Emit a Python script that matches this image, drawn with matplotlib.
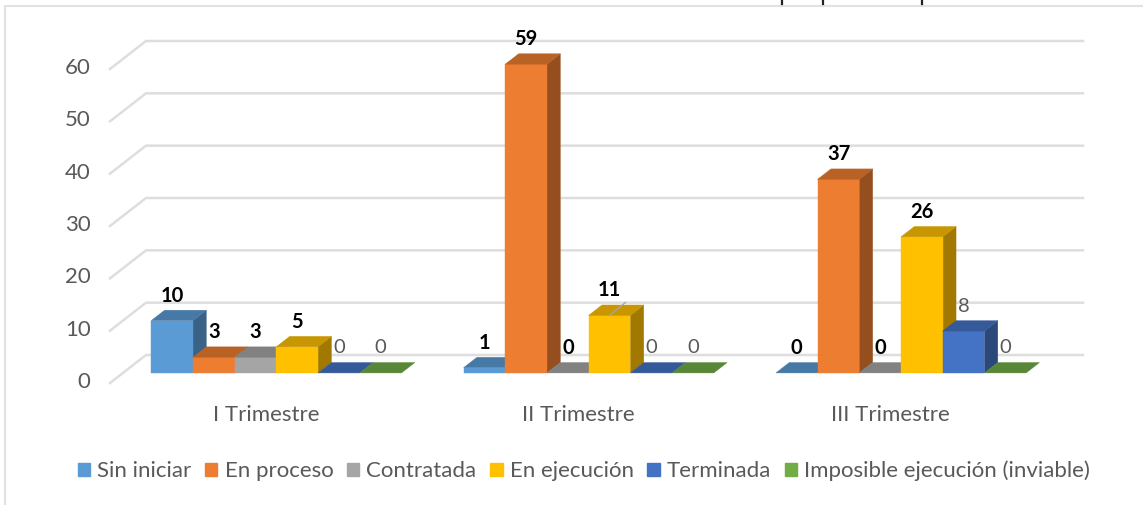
import matplotlib
matplotlib.use("Agg")
import matplotlib.pyplot as plt
from matplotlib.patches import Polygon, Patch, Rectangle
from matplotlib.lines import Line2D
from matplotlib.colors import to_rgb
from matplotlib.transforms import ScaledTranslation

categories = ["I Trimestre", "II Trimestre", "III Trimestre"]
series_names = ["Sin iniciar", "En proceso", "Contratada", "En ejecución", "Terminada", "Imposible ejecución (inviable)"]
sin_iniciar = [10, 1, 0]
en_proceso = [3, 59, 37]
contratada = [3, 0, 0]
en_ejecucion = [5, 11, 26]
terminada = [0, 0, 8]
imposible = [0, 0, 0]
series_values = [sin_iniciar, en_proceso, contratada, en_ejecucion, terminada, imposible]
colors = ["#5B9BD5", "#ED7D31", "#A5A5A5", "#FFC000", "#4472C4", "#70AD47"]
y_ticks = [0, 10, 20, 30, 40, 50, 60]
bold_labels = [[True, True, True], [True, True, True], [True, True, True],
               [True, True, True], [False, False, False], [False, False, False]]

W, H = 1143, 505
plt.rcParams["font.family"] = ["Lato", "DejaVu Sans"]
TXT = "#595959"
GRID = "#DEDEDE"
fig = plt.figure(figsize=(W / 100, H / 100), dpi=100)
fig.patches.append(Rectangle((5 / W, -0.02), 1.1, 1 - 6 / H + 0.02, transform=fig.transFigure,
                             fc="white", ec="#E2E2E2", lw=1.5, zorder=-5))

# front plane of the 3D box: x 110..1047 px, value 0..60 at 383..69 px
left, right, y0, y60 = 110, 1047, 383, 69
ax = fig.add_axes([left / W, 1 - y0 / H, (right - left) / W, (y0 - y60) / H])
ax.patch.set_alpha(0)
ax.set_xlim(0, 3)
ax.set_ylim(0, 60)
for s in ax.spines.values():
    s.set_visible(False)

px = 3 / (right - left)
py = 60 / (y0 - y60)
DX, DY = 36 * px, 28 * py          # full box depth


def shift(x, y, d):
    return x + DX * d, y + DY * d


for t in y_ticks:
    x1, y1 = shift(0, t, 1)
    x2, y2 = shift(3, t, 1)
    ax.plot([0, x1, x2], [t, y1, y2], color=GRID, lw=1.8, clip_on=False, zorder=1, solid_joinstyle="miter")

n = len(series_names)
bw = (41.7 * px)
start = 28.3 * px
d0, d1 = 0.36, 0.73


def face(pts, c, z, k=1.0):
    rgb = tuple(v * k for v in to_rgb(c))
    ax.add_patch(Polygon(pts, closed=True, fc=rgb, ec=rgb, lw=0.3, clip_on=False, zorder=z))


z = 3
for ci in range(len(categories)):
    for si in range(n):
        v = series_values[si][ci]
        xa = ci + start + si * bw
        xb = xa + bw
        c = colors[si]
        if v > 0:
            face([shift(xb, 0, d0), shift(xb, 0, d1), shift(xb, v, d1), shift(xb, v, d0)], c, z, 0.63)
            face([shift(xa, 0, d0), shift(xb, 0, d0), shift(xb, v, d0), shift(xa, v, d0)], c, z + 0.1)
        face([shift(xa, v, d0), shift(xb, v, d0), shift(xb, v, d1), shift(xa, v, d1)], c, z + 0.2, 0.78)
        z += 1
        lx, ly = shift(xa + bw / 2, v, d0)
        bold = bold_labels[si][ci]
        ax.annotate(str(v), (lx, ly), xytext=(0, 25), textcoords="offset pixels", ha="center", va="center",
                    fontsize=14.5 if bold else 14.5, fontweight="bold" if bold else "normal",
                    color="black" if bold else TXT, zorder=200, annotation_clip=False)

# leader line of the "11" label
lx, ly = shift(3 * bw + start + 1 + bw / 2, en_ejecucion[1], d0)
ax.annotate("", (lx, ly), xytext=(lx + 16 * px, ly + 13 * py),
            arrowprops=dict(arrowstyle="-", color="#A6A6A6", lw=1, shrinkA=0, shrinkB=0),
            zorder=150, annotation_clip=False)

ax.set_yticks(y_ticks)
ax.set_xticks([i + 0.5 for i in range(len(categories))])
ax.set_xticklabels(categories)
ax.tick_params(axis="both", length=0, labelcolor=TXT, labelsize=16)
ax.tick_params(axis="y", pad=14)
ax.tick_params(axis="x", pad=16)
for lab in ax.get_yticklabels():
    lab.set_transform(lab.get_transform() + ScaledTranslation(0, 3 / 100, fig.dpi_scale_trans))

handles = [Patch(fc=c, ec=c, label=s) for c, s in zip(colors, series_names)]
fig.legend(handles=handles, ncol=6, loc="center", bbox_to_anchor=(584 / W, 1 - 471 / H), frameon=False,
           fontsize=16, labelcolor=TXT, handlelength=0.55, handleheight=0.55, handletextpad=0.32,
           columnspacing=0.62, borderpad=0, borderaxespad=0)

# stubs of the cropped-away title at the top edge
for xp in (782, 823, 922):
    fig.add_artist(Line2D([xp / W, xp / W], [1, 1 - 3.5 / H], color="#222222", lw=1.6, transform=fig.transFigure))

fig.savefig("out.png", dpi=100)
